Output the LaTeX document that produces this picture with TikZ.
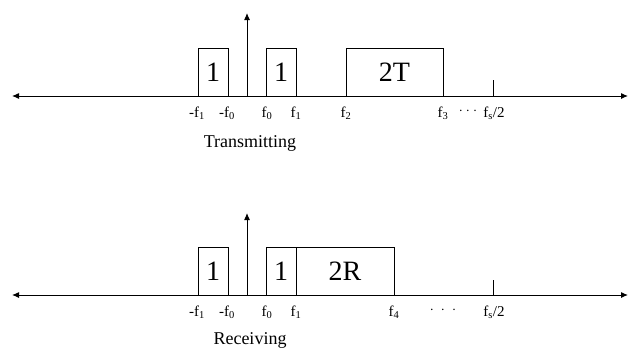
\documentclass[tikz,border=0pt]{standalone}
\usepackage{fontspec}
\setmainfont{Liberation Serif}
\usetikzlibrary{arrows.meta,positioning}

\newcommand{\fq}[1]{f\textsubscript{#1}}

\begin{document}
\begin{tikzpicture}[x=1pt,y=-1pt,line width=1pt,>={Latex[length=7pt,width=6pt]},
      band/.style={draw,line width=0.9pt},
      boxtxt/.style={font=\fontsize{28}{28}\selectfont},
      flab/.style={font=\fontsize{15}{15}\selectfont},
      title/.style={font=\fontsize{18}{18}\selectfont,anchor=base}]
    \useasboundingbox (0,0) rectangle (632,348);
    % transmitting
    \coordinate (tl) at (12,96);
    \coordinate (tr) at (628,96);
    \coordinate (tc) at (247,96);
    \coordinate (ttop) at (247,13);
    \draw[<->] (tl) -- (tr);
    \draw[->] (tc) -- (ttop);
    \draw[band] (198,96) rectangle node[boxtxt] (t1a) {1} (228,48);
    \draw[band] (266,96) rectangle node[boxtxt] (t1b) {1} (296,48);
    \draw[band] (346,96) rectangle node[boxtxt] (t2) {2T} (443,48);
    \coordinate (tfs) at (493,96);
    \coordinate (tfsup) at (493,80);
    \draw[line width=0.7pt] (tfs) -- (tfsup);
    \node[flab] (tm1) at (197,113) {-\fq{1}};
    \node[flab] (tm0) at (227,113) {-\fq{0}};
    \node[flab] (tp0) at (267,113) {\fq{0}};
    \node[flab] (tp1) at (296,113) {\fq{1}};
    \node[flab] (tp2) at (346,113) {\fq{2}};
    \node[flab] (tp3) at (443,113) {\fq{3}};
    \node[flab] (tdots) at (468,111) {$\cdot\cdot\cdot$};
    \node[flab] (tfl) at (494,113) {\fq{s}/2};
    \node[title] (ttl) at (250,147) {Transmitting};
    % receiving
    \coordinate (rl) at (12,295);
    \coordinate (rr) at (628,295);
    \coordinate (rc) at (247,295);
    \coordinate (rtop) at (247,213);
    \draw[<->] (rl) -- (rr);
    \draw[->] (rc) -- (rtop);
    \draw[band] (198,295) rectangle node[boxtxt] (r1a) {1} (228,247);
    \draw[band] (266,295) rectangle node[boxtxt] (r1b) {1} (296,247);
    \draw[band] (296,295) rectangle node[boxtxt] (r2) {2R} (394,247);
    \coordinate (rfs) at (493,295);
    \coordinate (rfsup) at (493,280);
    \draw[line width=0.7pt] (rfs) -- (rfsup);
    \node[flab] (rm1) at (197,312) {-\fq{1}};
    \node[flab] (rm0) at (227,312) {-\fq{0}};
    \node[flab] (rp0) at (267,312) {\fq{0}};
    \node[flab] (rp1) at (296,312) {\fq{1}};
    \node[flab] (rp4) at (394,312) {\fq{4}};
    \node[flab] (rdots) at (443,310) {$\cdot\;\cdot\;\cdot$};
    \node[flab] (rfl) at (494,312) {\fq{s}/2};
    \node[title] (rtl) at (250,344) {Receiving};
\end{tikzpicture}
\end{document}
